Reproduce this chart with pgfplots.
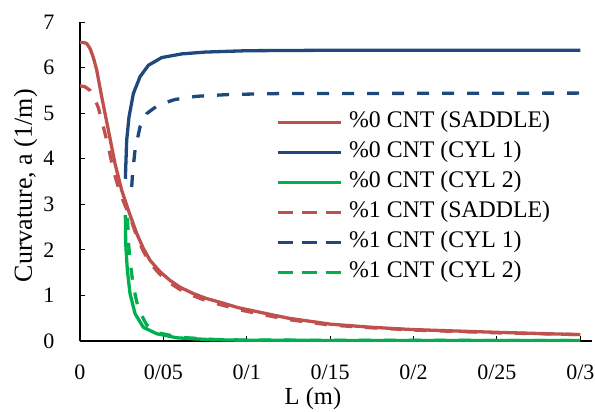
\documentclass[border=0pt]{standalone}
\usepackage{fontspec}
\setmainfont{Liberation Serif}
\usepackage{pgfplots}
\pgfplotsset{compat=1.18}
\definecolor{cred}{RGB}{192,80,77}
\definecolor{cblue}{RGB}{31,73,125}
\definecolor{cgreen}{RGB}{0,176,80}
\begin{document}
\fontsize{22bp}{26bp}\selectfont
\begin{tikzpicture}
\path[use as bounding box] (-80bp,-71bp) rectangle (515bp,341bp);
\begin{axis}[
  scale only axis, width=512bp, height=319bp,
  xmin=0, xmax=0.307, ymin=0, ymax=7,
  axis x line*=bottom, axis y line*=left,
  axis line style={-, line width=1.3bp, black},
  xtick={0,0.05,0.1,0.15,0.2,0.25,0.3},
  xticklabels={0,0/05,0/1,0/15,0/2,0/25,0/3},
  ytick={0,1,2,3,4,5,6,7},
  tick align=inside, major tick length=5bp,
  tick style={black, line width=1bp},
  /pgf/number format/assume math mode=true,
  font=\fontsize{22bp}{26bp}\selectfont,
  xticklabel style={inner sep=0pt, text depth=0pt, yshift=-24bp},
  yticklabel style={xshift=-18bp},
  xlabel={L (m)}, ylabel={Curvature, a (1/m)},
  xlabel style={at={(axis description cs:0.455,-0.18)}, anchor=center,
    inner sep=0pt, font=\fontsize{24.5bp}{28bp}\selectfont},
  ylabel style={at={(axis description cs:-0.106,0.487)}, anchor=center,
    inner sep=0pt, font=\fontsize{26bp}{30bp}\selectfont},
  legend style={at={(axis description cs:0.384,0.718)}, anchor=north west,
    draw=none, fill=none, inner sep=0pt, row sep=10bp, column sep=6bp,
    nodes={inner sep=0pt, text height=15bp, text depth=5bp},
    font=\fontsize{23.8bp}{28bp}\selectfont},
  legend cell align=left,
  legend image code/.code={\draw[#1] (0bp,0bp) -- (63bp,0bp);},
  every axis plot/.append style={line width=3.3bp, line join=round},
]
% 0% CNT SADDLE
\addplot[cred, solid] coordinates {
(0,6.55) (0.002,6.55) (0.004,6.53) (0.006,6.42) (0.008,6.22) (0.010,5.95)
(0.013,5.36) (0.017,4.63) (0.021,3.89) (0.025,3.31) (0.029,2.87) (0.034,2.36)
(0.038,2.03) (0.042,1.77) (0.048,1.52) (0.054,1.33) (0.060,1.18) (0.068,1.04)
(0.076,0.93) (0.084,0.85) (0.095,0.73) (0.108,0.63) (0.125,0.50) (0.15,0.37)
(0.175,0.30) (0.2,0.25) (0.225,0.22) (0.25,0.19) (0.275,0.165) (0.3,0.14)};
\addlegendentry{\%0 CNT (SADDLE)}
% 0% CNT CYL 1
\addplot[cblue, solid] coordinates {
(0.0272,3.56) (0.0275,3.89) (0.028,4.41) (0.0294,4.92) (0.032,5.43) (0.036,5.80)
(0.041,6.05) (0.049,6.22) (0.061,6.30) (0.075,6.34) (0.1,6.37) (0.15,6.38) (0.3,6.38)};
\addlegendentry{\%0 CNT (CYL 1)}
% 0% CNT CYL 2
\addplot[cgreen, solid] coordinates {
(0.0272,2.76) (0.0274,2.14) (0.0284,1.55) (0.030,1.04) (0.033,0.60) (0.038,0.30)
(0.046,0.16) (0.058,0.07) (0.078,0.03) (0.1,0.015) (0.2,0.01) (0.3,0.01)};
\addlegendentry{\%0 CNT (CYL 2)}
% 1% CNT SADDLE
\addplot[cred, dash pattern=on 12bp off 13bp,
  legend image post style={dash pattern=on 15bp off 9bp}] coordinates {
(0,5.60) (0.003,5.58) (0.006,5.50) (0.009,5.30) (0.011,5.12) (0.014,4.70)
(0.017,4.26) (0.020,3.75) (0.024,3.24) (0.027,2.98) (0.030,2.72) (0.034,2.30)
(0.038,1.97) (0.042,1.71) (0.048,1.46) (0.054,1.27) (0.060,1.13) (0.068,0.99)
(0.076,0.88) (0.084,0.80) (0.095,0.69) (0.108,0.59) (0.125,0.47) (0.15,0.35)
(0.175,0.29) (0.2,0.24) (0.25,0.18) (0.3,0.14)};
\addlegendentry{\%1 CNT (SADDLE)}
% 1% CNT CYL 1
\addplot[cblue, dash pattern=on 12bp off 13bp,
  legend image post style={dash pattern=on 15bp off 9bp}] coordinates {
(0.031,3.38) (0.0315,3.67) (0.033,4.19) (0.036,4.70) (0.040,4.99) (0.047,5.18)
(0.057,5.30) (0.07,5.37) (0.09,5.41) (0.12,5.43) (0.3,5.44)};
\addlegendentry{\%1 CNT (CYL 1)}
% 1% CNT CYL 2
\addplot[cgreen, dash pattern=on 12bp off 13bp,
  legend image post style={dash pattern=on 15bp off 9bp}] coordinates {
(0.0285,2.70) (0.029,2.20) (0.030,1.75) (0.032,1.20) (0.035,0.70) (0.040,0.35)
(0.048,0.17) (0.060,0.08) (0.08,0.035) (0.1,0.02) (0.3,0.01)};
\addlegendentry{\%1 CNT (CYL 2)}
\end{axis}
\end{tikzpicture}
\end{document}
